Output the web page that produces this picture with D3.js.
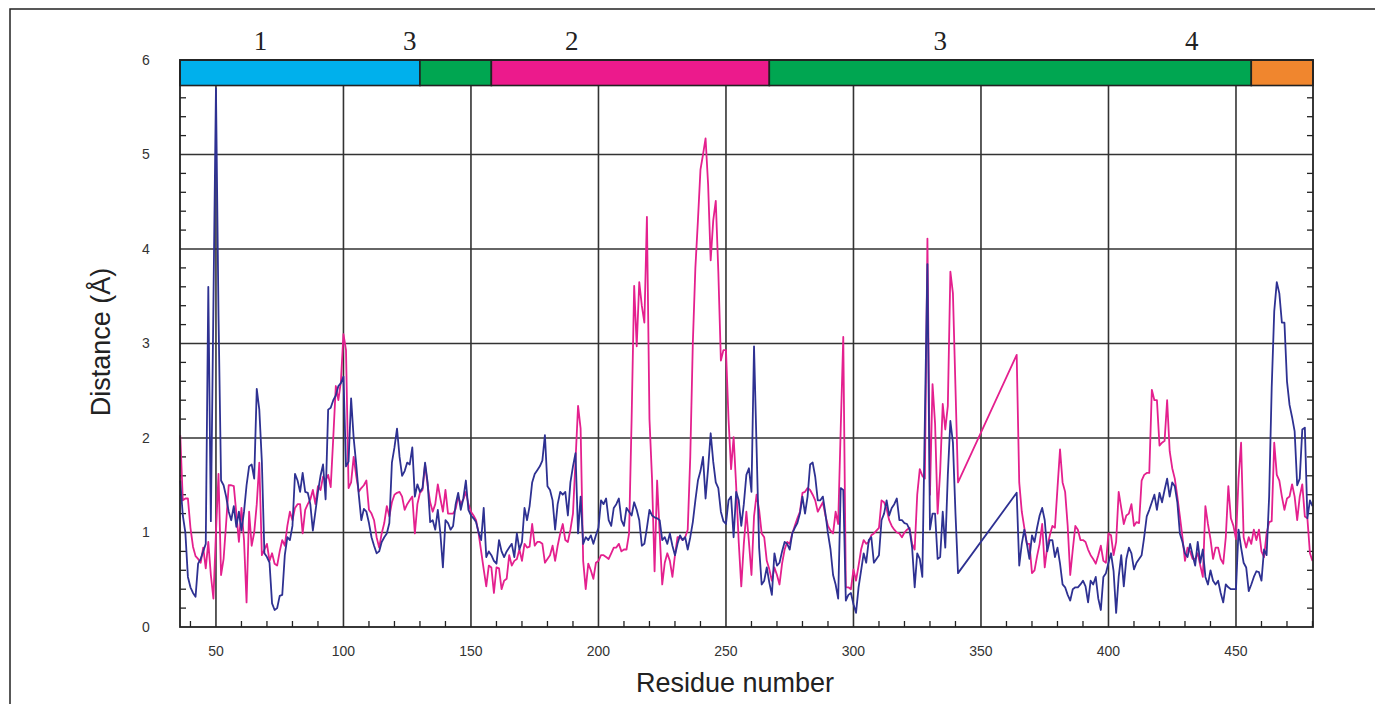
<!DOCTYPE html>
<html><head><meta charset="utf-8">
<script src="https://cdn.jsdelivr.net/npm/d3@7"></script>
<style>body{margin:0;background:#fff}svg{display:block}</style>
</head><body><svg id="chart" width="1375" height="704"></svg>
<script>
// ---- data ----
const blueRes = [...d3.range(36, 49), ...d3.range(50, 342), ...d3.range(364, 481)];
const blueDist = [
 1.55,1.18,1.0,0.53,0.42,0.36,0.32,0.67,0.72,0.8,0.88,3.6,1.12,
 5.7,3.3,1.55,1.5,1.38,1.22,1.13,1.28,1.06,1.22,
 1.02,1.22,1.5,1.7,1.72,1.57,2.52,2.3,1.75,0.78,
 0.74,0.68,0.25,0.18,0.2,0.33,0.34,0.76,0.95,0.92,
 1.07,1.62,1.55,1.43,1.63,1.43,1.42,1.3,1.02,1.22,
 1.43,1.6,1.72,1.35,2.3,2.32,2.4,2.45,2.55,2.58,
 2.65,1.7,1.75,2.42,2.0,1.72,1.4,1.13,1.25,1.22,
 1.1,0.95,0.86,0.78,0.8,0.9,0.95,0.99,1.1,1.74,
 1.9,2.1,1.8,1.6,1.65,1.74,1.72,1.9,1.38,1.51,
 1.43,1.47,1.74,1.53,1.11,1.13,1.03,1.24,0.99,0.63,
 1.13,1.1,1.03,1.07,1.3,1.42,1.24,1.36,1.55,1.24,
 1.18,1.15,1.11,1.0,0.92,1.26,0.74,0.8,0.76,0.7,
 0.67,0.92,0.8,0.74,0.8,0.84,0.88,0.74,0.99,0.82,
 0.9,1.26,1.13,1.28,1.53,1.62,1.66,1.7,1.76,2.03,
 1.49,1.45,1.34,1.03,1.3,1.43,1.4,1.43,1.18,1.53,
 1.7,1.84,0.99,1.38,0.88,0.95,0.92,0.97,0.88,0.97,
 1.05,1.34,1.3,1.36,1.13,1.07,1.26,1.3,1.36,1.13,
 1.07,1.26,1.22,1.18,1.32,1.24,1.13,0.86,0.88,1.05,
 1.24,1.18,1.16,1.15,1.13,0.92,0.95,0.88,0.99,0.86,
 0.76,0.88,0.97,0.92,0.95,0.82,0.95,1.11,1.34,1.55,
 1.65,1.8,1.36,1.68,2.05,1.75,1.53,1.47,1.22,1.12,
 1.09,1.34,1.38,0.95,1.43,1.34,1.07,1.3,1.61,1.68,
 1.43,2.97,1.9,0.84,0.45,0.49,0.63,0.47,0.34,0.78,
 0.65,0.68,0.8,0.9,0.88,0.82,0.99,1.05,1.1,1.2,
 1.38,1.2,1.38,1.72,1.74,1.59,1.34,1.34,1.38,1.2,
 0.99,0.82,0.55,0.45,0.3,1.47,1.45,0.28,0.34,0.36,
 0.24,0.15,0.42,0.6,0.78,0.68,0.92,0.95,0.68,0.72,
 0.76,1.13,1.2,1.34,1.18,1.26,1.3,1.36,1.13,1.13,
 1.1,1.09,1.03,0.84,0.42,0.78,0.72,0.53,2.2,3.84,
 1.03,1.2,1.2,0.72,0.74,1.22,0.84,1.61,2.18,1.95,
 1.2,0.57,
 1.42,0.65,0.88,1.03,0.88,0.72,0.97,0.9,1.05,1.18,
 1.26,1.13,0.8,0.92,0.92,0.74,0.84,0.67,0.45,0.42,
 0.34,0.28,0.4,0.42,0.42,0.45,0.49,0.43,0.26,0.49,
 0.45,0.53,0.3,0.18,0.53,0.57,0.68,0.78,0.59,0.15,
 0.53,0.76,0.43,0.72,0.84,0.78,0.61,0.68,0.72,0.76,
 0.95,1.17,1.24,1.32,1.4,1.24,1.42,1.32,1.45,1.57,
 1.38,1.53,1.49,1.32,0.99,0.9,0.78,0.74,0.88,0.76,
 0.65,0.9,0.68,0.82,0.53,0.45,0.6,0.49,0.45,0.49,
 0.36,0.26,0.45,0.42,0.4,0.4,0.4,1.03,0.84,0.68,
 0.63,0.38,0.45,0.53,0.59,0.58,0.49,0.82,0.76,1.38,
 2.53,3.34,3.65,3.53,3.22,3.22,2.6,2.35,2.22,2.07,
 1.5,1.57,2.09,2.11,1.15,1.34,1.28
];
const pinkRes = [...d3.range(36, 342), ...d3.range(364, 481)];
const pinkDist = [
 2.03,1.34,1.36,1.36,1.05,0.85,0.75,0.72,0.68,0.84,
 0.62,0.9,0.55,0.3,1.0,1.62,0.55,0.72,1.1,1.5,
 1.5,1.49,1.2,0.9,1.26,0.92,0.26,1.22,0.86,1.0,
 1.3,1.74,0.76,0.82,0.88,0.7,0.78,0.67,0.65,0.8,
 0.92,0.86,1.07,1.22,1.13,1.26,1.3,1.3,0.99,1.24,
 1.3,1.35,1.45,1.3,1.49,1.45,1.59,1.55,1.61,1.48,
 2.0,2.55,2.4,2.6,3.1,2.93,1.47,1.53,1.8,1.6,
 1.43,1.47,1.5,1.55,1.24,1.2,1.13,0.95,0.84,0.99,
 1.1,1.28,1.17,1.32,1.4,1.42,1.43,1.38,1.24,1.3,
 1.34,1.38,0.99,1.3,1.42,1.45,1.72,1.5,1.32,1.22,
 1.3,1.51,1.36,1.22,1.45,1.2,1.2,1.2,1.25,1.38,
 1.3,1.35,1.43,1.3,1.22,1.18,1.13,0.99,0.8,0.61,
 0.43,0.65,0.63,0.36,0.63,0.62,0.4,0.49,0.51,0.76,
 0.65,0.7,0.72,0.82,0.7,0.88,0.84,0.85,1.09,0.86,
 0.9,0.9,0.88,0.68,0.72,0.76,0.86,0.7,0.86,0.99,
 1.09,0.92,0.9,1.03,1.2,1.76,2.34,2.1,0.7,0.4,
 0.67,0.6,0.51,0.68,0.7,0.76,0.76,0.74,0.72,0.78,
 0.84,0.84,0.88,0.8,0.82,0.82,0.99,2.2,3.61,2.97,
 3.65,3.4,3.22,4.34,2.2,1.57,0.59,1.55,0.99,0.45,
 0.68,0.78,0.7,0.53,0.76,0.95,0.95,0.92,0.95,1.03,
 1.8,3.0,3.8,4.3,4.84,5.0,5.17,4.68,3.88,4.3,
 4.51,3.76,2.82,2.93,2.93,2.2,1.67,2.01,1.49,0.9,
 0.43,0.88,1.22,0.9,0.55,1.17,1.4,1.24,0.99,0.95,
 0.7,0.61,0.49,0.63,0.55,0.45,0.67,0.82,0.9,0.88,
 0.99,1.07,1.15,1.22,1.42,1.43,1.47,1.45,1.4,1.34,
 1.22,1.27,1.32,1.18,1.07,1.02,0.99,1.22,1.09,2.1,
 3.07,0.42,0.42,0.4,0.61,0.49,0.65,0.82,0.92,0.88,
 0.9,0.97,0.99,1.02,1.05,1.34,1.32,1.25,1.13,1.07,
 1.03,1.0,0.99,0.95,1.0,1.03,1.05,0.88,0.82,1.4,
 1.67,1.6,1.57,4.11,1.4,2.57,2.15,1.2,1.65,2.36,
 2.09,2.34,3.76,3.53,2.53,1.53,
 2.88,1.53,1.22,1.05,0.88,0.88,0.57,0.6,0.75,0.88,
 1.09,0.63,0.85,0.97,1.07,1.05,1.47,1.88,1.53,1.43,
 1.07,0.55,0.82,1.07,1.03,0.92,0.92,0.9,0.82,0.76,
 0.72,0.67,0.76,0.86,0.7,0.68,0.99,0.97,0.76,0.9,
 1.43,1.26,1.09,1.18,1.2,1.3,1.07,1.11,1.1,1.55,
 1.61,1.63,1.63,2.51,2.4,2.4,1.92,1.95,1.97,2.4,
 1.86,1.68,1.57,1.38,1.17,0.95,0.7,0.84,0.8,0.72,
 0.72,0.78,0.65,0.53,1.28,1.09,0.93,0.72,0.84,0.84,
 0.72,0.67,0.95,1.49,1.15,1.07,0.93,1.57,1.95,0.95,
 0.84,0.95,0.88,1.03,0.92,1.03,0.8,0.74,0.99,1.11,
 1.12,1.95,1.61,1.55,1.38,1.24,1.36,1.38,1.51,1.38,
 1.13,1.38,1.51,1.17,1.15,0.78,0.7
];
const segStart = [35.9, 130, 158, 267, 456];
const segEnd   = [130, 158, 267, 456, 480.2];
const segColor = ["#00b0ec", "#00a651", "#ec1a8c", "#00a651", "#f0862e"];
const segLabel = ["1", "3", "2", "3", "4"];
const segLabelPos = [67.5, 126, 189.5, 334, 432.7];
const xTickLabels = [50, 100, 150, 200, 250, 300, 350, 400, 450];
const yTickLabels = [0, 1, 2, 3, 4, 5, 6];

// ---- drawing ----
const svg = d3.select("#chart");
const L = 180, R = 1313, T = 60, B = 627;
const x = d3.scaleLinear().domain([35.9, 480.2]).range([L, R]);
const y = d3.scaleLinear().domain([0, 6]).range([B, T]);
const barBottom = 5.73;

// outer figure frame
svg.append("rect").attr("x", 10).attr("y", 9).attr("width", 1400).attr("height", 760)
  .attr("fill", "none").attr("stroke", "#222").attr("stroke-width", 1.5);

const g = svg.append("g");
// horizontal grid
g.selectAll(".hg").data(yTickLabels.filter(v => v > 0 && v < 6)).enter().append("line")
  .attr("x1", L).attr("x2", R).attr("y1", d => y(d)).attr("y2", d => y(d))
  .attr("stroke", "#333").attr("stroke-width", 1.6);
// vertical grid
g.selectAll(".vg").data(xTickLabels).enter().append("line")
  .attr("x1", d => x(d)).attr("x2", d => x(d)).attr("y1", y(barBottom)).attr("y2", B)
  .attr("stroke", "#333").attr("stroke-width", 1.6);

// minor ticks
const yMinor = d3.range(1, 30).map(i => i / 5).filter(v => Math.abs(v - Math.round(v)) > 1e-6 && v < barBottom);
g.selectAll(".ylt").data(yMinor).enter().append("line")
  .attr("x1", L).attr("x2", L + 6).attr("y1", d => y(d)).attr("y2", d => y(d))
  .attr("stroke", "#222").attr("stroke-width", 1.3);
g.selectAll(".yrt").data(yMinor).enter().append("line")
  .attr("x1", R - 6).attr("x2", R).attr("y1", d => y(d)).attr("y2", d => y(d))
  .attr("stroke", "#222").attr("stroke-width", 1.3);
const xMinor = d3.range(40, 481, 10).filter(v => v % 50 !== 0);
g.selectAll(".xt").data(xMinor).enter().append("line")
  .attr("x1", d => x(d)).attr("x2", d => x(d)).attr("y1", B).attr("y2", B - 6)
  .attr("stroke", "#222").attr("stroke-width", 1.3);

// series
const line = d3.line().x(d => x(d[0])).y(d => y(d[1]));
const pink = d3.zip(pinkRes, pinkDist);
const blue = d3.zip(blueRes, blueDist);
g.append("path").datum(pink).attr("d", line).attr("fill", "none")
  .attr("stroke", "#e4208e").attr("stroke-width", 1.8).attr("stroke-linejoin", "round");
g.append("path").datum(blue).attr("d", line).attr("fill", "none")
  .attr("stroke", "#2e3192").attr("stroke-width", 1.8).attr("stroke-linejoin", "round");

// segment bar
g.selectAll(".seg").data(segStart).enter().append("rect")
  .attr("x", (d) => x(d)).attr("y", y(6))
  .attr("width", (d, i) => x(segEnd[i]) - x(d)).attr("height", y(barBottom) - y(6))
  .attr("fill", (d, i) => segColor[i]).attr("stroke", "#222").attr("stroke-width", 1.6);
g.selectAll(".segl").data(segLabel).enter().append("text")
  .attr("x", (d, i) => x(segLabelPos[i])).attr("y", 50)
  .attr("text-anchor", "middle").attr("font-family", "Liberation Serif, Times New Roman, serif")
  .attr("font-size", 27).attr("fill", "#222").text(d => d);

// plot frame
g.append("rect").attr("x", L).attr("y", T).attr("width", R - L).attr("height", B - T)
  .attr("fill", "none").attr("stroke", "#222").attr("stroke-width", 1.8);

// tick labels
svg.selectAll(".yl").data(yTickLabels).enter().append("text")
  .attr("x", 146).attr("y", d => y(d)).attr("dy", "0.35em").attr("text-anchor", "middle")
  .attr("font-family", "Liberation Sans, Arial, sans-serif").attr("font-size", 14).attr("fill", "#333")
  .text(d => d);
svg.selectAll(".xl").data(xTickLabels).enter().append("text")
  .attr("x", d => x(d)).attr("y", 656).attr("text-anchor", "middle")
  .attr("font-family", "Liberation Sans, Arial, sans-serif").attr("font-size", 14).attr("fill", "#333")
  .text(d => d);

// axis titles
svg.append("text").attr("x", 735).attr("y", 692).attr("text-anchor", "middle")
  .attr("font-family", "Liberation Sans, Arial, sans-serif").attr("font-size", 27).attr("fill", "#222")
  .text("Residue number");
svg.append("text").attr("transform", "translate(110,342) rotate(-90)").attr("text-anchor", "middle")
  .attr("font-family", "Liberation Sans, Arial, sans-serif").attr("font-size", 27).attr("fill", "#222")
  .text("Distance (Å)");
</script>
</body></html>
